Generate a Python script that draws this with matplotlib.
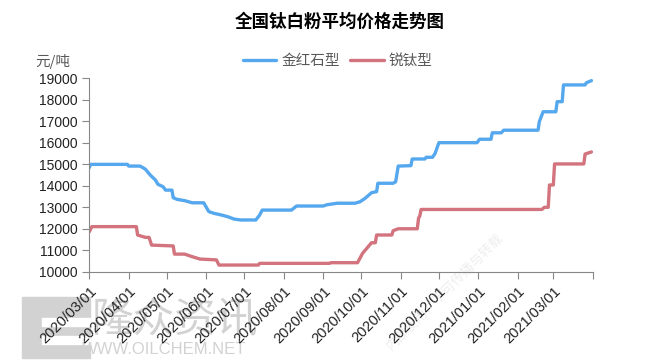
import matplotlib
matplotlib.use('Agg')
import matplotlib.pyplot as plt
from matplotlib.patches import Rectangle
import pandas as pd

plt.rcParams['font.family'] = ['Noto Sans CJK SC', 'DejaVu Sans']

# 金红石型 (rutile) price, yuan/ton
rutile_dates = ['2020-03-01', '2020-03-02', '2020-03-31', '2020-04-01', '2020-04-10', '2020-04-14',
                '2020-04-18', '2020-04-22', '2020-04-24', '2020-04-28', '2020-04-30', '2020-05-05',
                '2020-05-06', '2020-05-09', '2020-05-15', '2020-05-21', '2020-05-30', '2020-06-03',
                '2020-06-07', '2020-06-13', '2020-06-18', '2020-06-23', '2020-06-28', '2020-07-10',
                '2020-07-13', '2020-07-15', '2020-08-07', '2020-08-11', '2020-09-01', '2020-09-04',
                '2020-09-12', '2020-09-26', '2020-09-30', '2020-10-04', '2020-10-09', '2020-10-13',
                '2020-10-14', '2020-10-26', '2020-10-28', '2020-10-30', '2020-11-09', '2020-11-10',
                '2020-11-20', '2020-11-21', '2020-11-26', '2020-11-28', '2020-12-01', '2020-12-31',
                '2021-01-02', '2021-01-11', '2021-01-12', '2021-01-19', '2021-01-21', '2021-02-17',
                '2021-02-18', '2021-02-21', '2021-03-03', '2021-03-04', '2021-03-08', '2021-03-09',
                '2021-03-26', '2021-03-27', '2021-03-31']
rutile_price = [14850, 15000, 15000, 14920, 14920, 14780, 14500, 14270, 14070, 13960, 13800, 13800,
                13450, 13370, 13310, 13210, 13210, 12800, 12720, 12640, 12560, 12450, 12410, 12410,
                12640, 12870, 12870, 13060, 13060, 13120, 13190, 13190, 13260, 13420, 13680, 13730,
                14120, 14120, 14190, 14920, 14940, 15250, 15250, 15330, 15330, 15510, 16010, 16010,
                16170, 16170, 16470, 16470, 16590, 16590, 16990, 17450, 17450, 17920, 17920, 18700,
                18700, 18800, 18900]

# 锐钛型 (anatase) price, yuan/ton
anatase_dates = ['2020-03-01', '2020-03-03', '2020-04-07', '2020-04-08', '2020-04-14', '2020-04-17',
                 '2020-04-19', '2020-05-06', '2020-05-07', '2020-05-15', '2020-05-21', '2020-05-27',
                 '2020-06-09', '2020-06-11', '2020-07-12', '2020-07-13', '2020-09-06', '2020-09-07',
                 '2020-09-28', '2020-10-02', '2020-10-09', '2020-10-12', '2020-10-13', '2020-10-25',
                 '2020-10-26', '2020-10-30', '2020-11-14', '2020-11-15', '2020-11-16', '2020-11-17',
                 '2021-02-20', '2021-02-22', '2021-02-25', '2021-02-26', '2021-03-01', '2021-03-02',
                 '2021-03-25', '2021-03-26', '2021-03-31']
anatase_price = [11860, 12100, 12100, 11710, 11600, 11600,
                 11240, 11200, 10820, 10820, 10700, 10590,
                 10550, 10310, 10310, 10390, 10390, 10420,
                 10420, 10860, 11350, 11350, 11710, 11710,
                 11910, 12000, 12000, 12490, 12600, 12900,
                 12900, 13000, 13000, 14040, 14040, 15020,
                 15020, 15480, 15580]

month_ticks = pd.date_range('2020-03-01', '2021-04-01', freq='MS')
month_labels = [d.strftime('%Y/%m/%d') for d in month_ticks[:-1]] + ['']

fig = plt.figure(figsize=(6.61, 3.62), dpi=100)
ax = fig.add_axes([0.1351, 0.2494, 0.7616, 0.5338])
ax.patch.set_alpha(0)

ax.plot(pd.to_datetime(rutile_dates), rutile_price, color='#55A8EE', lw=2.4,
        label='金红石型', solid_capstyle='round')
ax.plot(pd.to_datetime(anatase_dates), anatase_price, color='#D2737D', lw=2.4,
        label='锐钛型', solid_capstyle='round')

ax.set_xlim(pd.Timestamp('2020-03-01'), pd.Timestamp('2021-04-01'))
ax.set_ylim(10000, 19000)
ax.set_yticks(range(10000, 19001, 1000))
ax.set_xticks(month_ticks)
ax.set_xticklabels(month_labels, rotation=45, ha='right', rotation_mode='anchor',
                   family=['Liberation Sans'], fontsize=10.5, color='#222222')
for lab in ax.get_yticklabels():
    lab.set_family(['Liberation Sans'])
ax.tick_params(axis='y', labelsize=10, length=5, color='#888888', width=0.8,
               labelcolor='#222222')
ax.tick_params(axis='x', length=5, color='#888888', width=0.8, pad=4)

for s in ['top', 'right']:
    ax.spines[s].set_visible(False)
for s in ['left', 'bottom']:
    ax.spines[s].set_color('#888888')
    ax.spines[s].set_linewidth(0.8)

fig.text(0.514, 0.94, '全国钛白粉平均价格走势图', ha='center', va='center',
         fontsize=12.6, fontweight='bold', color='#000000')
fig.text(0.053, 0.831, '元/吨', ha='left', va='center', fontsize=10.5, color='#595959')
fig.legend(loc='center', bbox_to_anchor=(0.511, 0.831), ncol=2, frameon=False,
           fontsize=10.5, handlelength=2.3, handletextpad=0.35, columnspacing=0.7,
           labelcolor='#595959')

# watermark, drawn behind the chart
wm = '#D2D2D2'
fig.patches.append(Rectangle((22 / 661, 1 - 358 / 362), 68 / 661, 61 / 362,
                             transform=fig.transFigure, color=wm, zorder=-2))
fig.patches.append(Rectangle((42 / 661, 1 - 326 / 362), 48 / 661, 8 / 362,
                             transform=fig.transFigure, color='white', zorder=-1.5))
fig.patches.append(Rectangle((42 / 661, 1 - 344 / 362), 48 / 661, 8 / 362,
                             transform=fig.transFigure, color='white', zorder=-1.5))
fig.text(175 / 661, 1 - 320 / 362, '隆众资讯', ha='center', va='center', fontsize=30,
         color=wm, zorder=-1)
fig.text(164 / 661, 1 - 350 / 362, 'WWW.OILCHEM.NET', ha='center', va='center', fontsize=12,
         color=wm, family=['Liberation Sans'], zorder=-1)
fig.text(445 / 661, 1 - 292 / 362, '内部使用，不可传播与转载', ha='center', va='center',
         fontsize=9.5, color='#EEEEEE', rotation=45, zorder=-1)

fig.savefig('out.png', dpi=100)
